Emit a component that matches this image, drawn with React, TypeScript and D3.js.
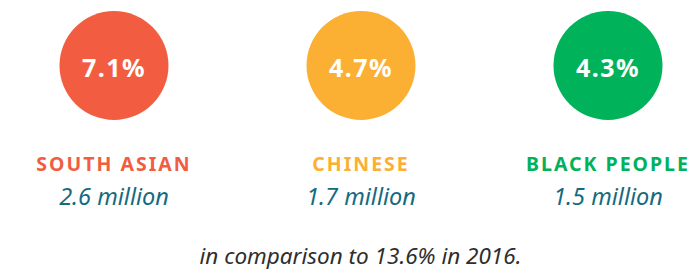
import React from "react";
import * as d3 from "d3";

const groups = ["SOUTH ASIAN", "CHINESE", "BLACK PEOPLE"];
const percents = [7.1, 4.7, 4.3];
const populations = [2.6, 1.7, 1.5];
const colors = ["#F25D42", "#FBB034", "#00B25A"];
const comparisonValue = 13.6;
const comparisonYear = 2016;

const W = 699;
const H = 273;

export default function App() {
  const x = d3.scalePoint<string>().domain(groups).range([114, 608]);
  const fmt = d3.format(".1f");
  return (
    <svg
      width={W}
      height={H}
      style={{ position: "absolute", left: 0, top: 0, background: "#fff" }}
    >
      {groups.map((g, i) => (
        <g key={g} transform={`translate(${x(g)},0)`}>
          <circle cx={0} cy={65.5} r={54.5} fill={colors[i]} />
          <text
            x={0}
            y={77}
            textAnchor="middle"
            fill="#fff"
            fontFamily="'Noto Sans', sans-serif"
            fontWeight={700}
            fontSize={25}
            letterSpacing={1.5}
          >
            {fmt(percents[i])}%
          </text>
          <text
            x={0}
            y={171}
            textAnchor="middle"
            fill={colors[i]}
            fontFamily="'Noto Sans', sans-serif"
            fontWeight={700}
            fontSize={19.5}
            letterSpacing={2}
          >
            {g}
          </text>
          <text
            x={0}
            y={205}
            textAnchor="middle"
            fill="#166A80"
            fontFamily="'Noto Sans', sans-serif"
            fontStyle="italic"
            fontWeight={400}
            fontSize={23.5}
          >
            {fmt(populations[i])} million
          </text>
        </g>
      ))}
      <text
        x={360.5}
        y={264}
        textAnchor="middle"
        fill="#2e2e2e"
        fontFamily="'Noto Sans', sans-serif"
        fontStyle="italic"
        fontWeight={400}
        fontSize={22.5}
      >
        in comparison to {fmt(comparisonValue)}% in {comparisonYear}.
      </text>
    </svg>
  );
}
